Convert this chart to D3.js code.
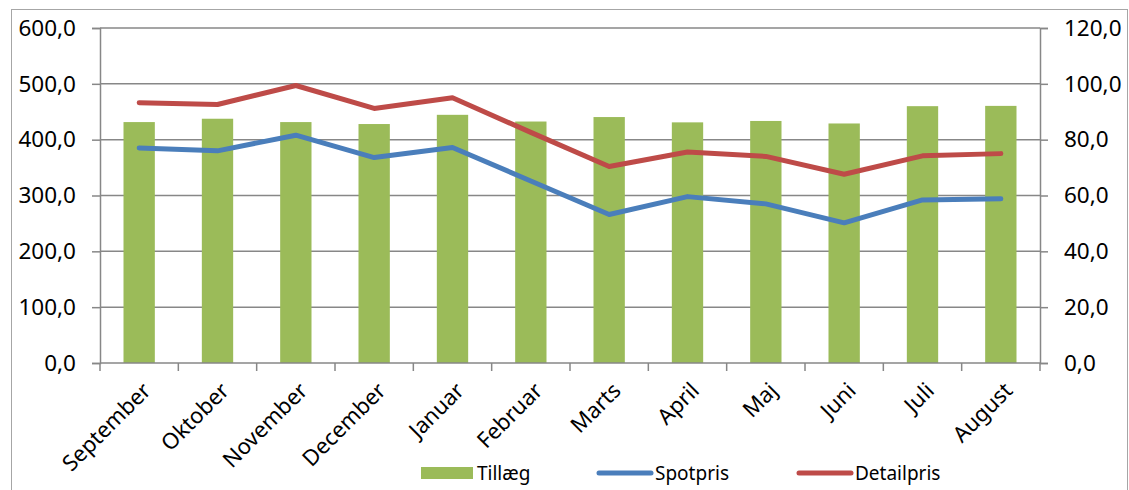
<!DOCTYPE html>
<html>
<head>
<meta charset="utf-8">
<script src="https://cdn.jsdelivr.net/npm/d3@7"></script>
<style>
  body { margin: 0; background: #fff; }
  text { font-family: "Noto Sans", "Open Sans", sans-serif; fill: #000; }
</style>
</head>
<body>
<div id="chart"></div>
<script>
// data
const months = ["September", "Oktober", "November", "December", "Januar", "Februar",
    "Marts", "April", "Maj", "Juni", "Juli", "August"];
const tillaeg = [86.3, 87.5, 86.3, 85.6, 88.9, 86.5, 88.1, 86.2, 86.7, 85.8, 92.0, 92.1];
const spotpris = [385, 380, 408, 368, 386, 326, 266, 298, 285, 251, 292, 294];
const detailpris = [466, 463, 497, 456, 475, 413, 352, 378, 370, 338, 371, 375];
const leftTicks = [0, 100, 200, 300, 400, 500, 600];
const rightTicks = [0, 20, 40, 60, 80, 100, 120];

const W = 1129, H = 490;
const margin = {top: 28, right: 89, bottom: 127, left: 100};
const width = W - margin.left - margin.right;
const height = H - margin.top - margin.bottom;

const fmt = d => d3.format(".1f")(d).replace(".", ",");

const svg = d3.select("#chart").append("svg")
    .attr("width", W)
    .attr("height", H);

// outer chart border
svg.append("rect")
    .attr("x", 11.5).attr("y", 9.5)
    .attr("width", 1116).attr("height", 490)
    .attr("fill", "none")
    .attr("stroke", "#a6a6a6")
    .attr("stroke-width", 1);

const g = svg.append("g")
    .attr("transform", `translate(${margin.left},${margin.top})`);

const xTick = d3.scaleBand().domain(months).range([0, width]);
const barW = xTick.bandwidth() * 0.4;
const yL = d3.scaleLinear().domain([0, 600]).range([height, 0]);
const yR = d3.scaleLinear().domain([0, 120]).range([height, 0]);

const grey = "#878787";

// gridlines
g.selectAll(".grid")
    .data(leftTicks.slice(1))
    .enter().append("line")
    .attr("class", "grid")
    .attr("x1", 0).attr("x2", width)
    .attr("y1", d => yL(d)).attr("y2", d => yL(d))
    .attr("stroke", grey)
    .attr("stroke-width", 1.5);

// bars (Tillæg, right axis)
g.selectAll(".bar")
    .data(tillaeg)
    .enter().append("rect")
    .attr("class", "bar")
    .attr("x", (d, i) => xTick(months[i]) + (xTick.bandwidth() - barW) / 2)
    .attr("y", d => yR(d))
    .attr("width", barW)
    .attr("height", d => height - yR(d))
    .attr("fill", "#9bbb59");

// axes
const leftAxis = d3.axisLeft(yL).tickValues(leftTicks).tickFormat(fmt).tickSize(8).tickPadding(16);
const rightAxis = d3.axisRight(yR).tickValues(rightTicks).tickFormat(fmt).tickSize(8).tickPadding(16);

function styleAxis(sel) {
    sel.select(".domain").attr("stroke", grey).attr("stroke-width", 1.5);
    sel.selectAll(".tick line").attr("stroke", grey).attr("stroke-width", 1.5);
    sel.selectAll("text").attr("font-size", "22.5px").attr("fill", "#000")
        .style("font-family", "'Noto Sans', sans-serif");
}

g.append("g").call(leftAxis).call(styleAxis);
g.append("g").attr("transform", `translate(${width},0)`).call(rightAxis).call(styleAxis);

// bottom axis: ticks sit on category boundaries
const xAxisG = g.append("g").attr("transform", `translate(0,${height})`);
xAxisG.append("line")
    .attr("x1", 0).attr("x2", width)
    .attr("stroke", grey).attr("stroke-width", 1.5);
xAxisG.selectAll(".bnd")
    .data(d3.range(months.length + 1))
    .enter().append("line")
    .attr("x1", i => i * xTick.step()).attr("x2", i => i * xTick.step())
    .attr("y1", 0).attr("y2", 8)
    .attr("stroke", grey).attr("stroke-width", 1.5);

xAxisG.selectAll(".mlabel")
    .data(months)
    .enter().append("text")
    .attr("class", "mlabel")
    .attr("text-anchor", "end")
    .attr("font-size", "22px")
    .attr("transform", d => `translate(${xTick(d) + xTick.bandwidth() / 2 + 13},${29}) rotate(-45)`)
    .text(d => d);

// lines (left axis)
const line = d3.line()
    .x((d, i) => xTick(months[i]) + xTick.bandwidth() / 2)
    .y(d => yL(d));

g.append("path")
    .datum(spotpris)
    .attr("d", line)
    .attr("fill", "none")
    .attr("stroke", "#4a7ebb")
    .attr("stroke-width", 5)
    .attr("stroke-linecap", "round")
    .attr("stroke-linejoin", "round");

g.append("path")
    .datum(detailpris)
    .attr("d", line)
    .attr("fill", "none")
    .attr("stroke", "#be4b48")
    .attr("stroke-width", 5)
    .attr("stroke-linecap", "round")
    .attr("stroke-linejoin", "round");

// legend
const legend = svg.append("g").attr("transform", "translate(0,473)");
const legendItems = [
    {name: "Tillæg", color: "#9bbb59", type: "bar", x: 421},
    {name: "Spotpris", color: "#4a7ebb", type: "line", x: 599},
    {name: "Detailpris", color: "#be4b48", type: "line", x: 799}
];
legendItems.forEach(it => {
    if (it.type === "bar") {
        legend.append("rect").attr("x", it.x).attr("y", -6).attr("width", 52).attr("height", 12).attr("fill", it.color);
    } else {
        legend.append("line").attr("x1", it.x).attr("x2", it.x + 52).attr("y1", 0).attr("y2", 0)
            .attr("stroke", it.color).attr("stroke-width", 5).attr("stroke-linecap", "round");
    }
    legend.append("text").attr("x", it.x + 56).attr("y", 7)
        .attr("font-size", "19px").text(it.name);
});
</script>
</body>
</html>
